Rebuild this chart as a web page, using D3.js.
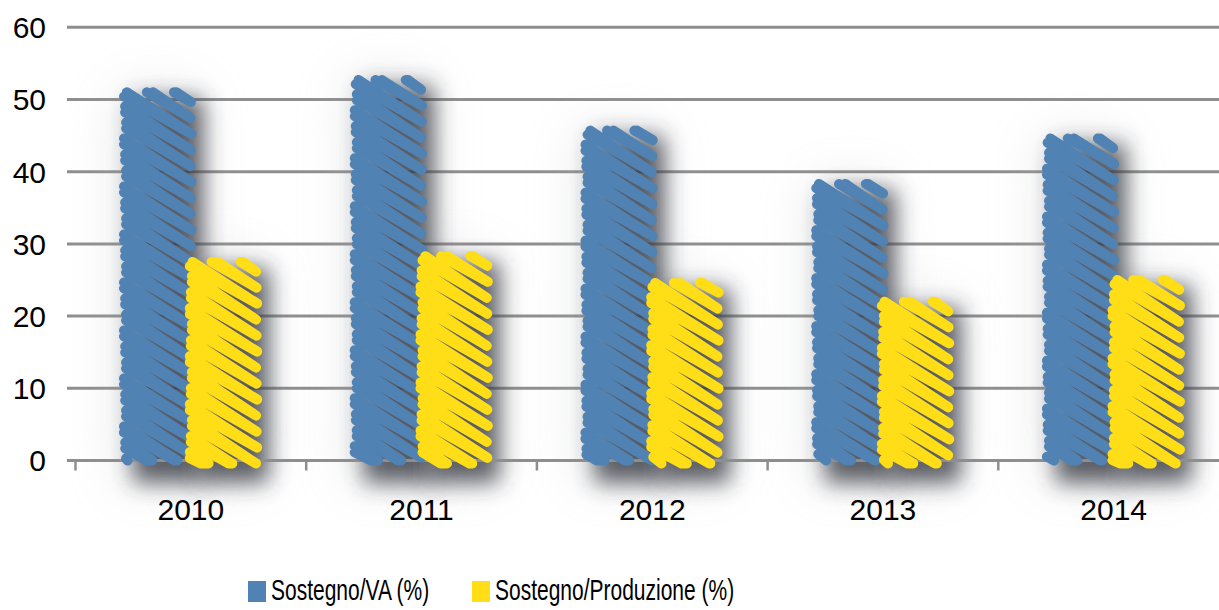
<!DOCTYPE html>
<html>
<head>
<meta charset="utf-8">
<script src="https://cdn.jsdelivr.net/npm/d3@7"></script>
<style>
  html, body { margin: 0; padding: 0; background: #fff; }
  svg { display: block; font-family: "Liberation Sans", Arial, sans-serif; }
</style>
</head>
<body>
<svg id="chart" width="1219" height="610"></svg>
<script>
// ---- data ----
const years = ["2010", "2011", "2012", "2013", "2014"];
const seriesNames = ["Sostegno/VA (%)", "Sostegno/Produzione (%)"];
const vaValues = [51, 52.7, 45.7, 38.3, 44.6];
const prodValues = [27.5, 28.3, 24.6, 22, 25];
const yTicks = [0, 10, 20, 30, 40, 50, 60];
const seriesColors = ["#5082b4", "#ffdd17"];

const svg = d3.select("#chart");

const x0 = d3.scaleBand().domain(years).range([75.5, 1229]);
const bw = x0.bandwidth();
const x1 = d3.scaleBand().domain(seriesNames).range([bw * 0.215, bw * 0.785]);
const y = d3.scaleLinear().domain([0, 60]).range([460.5, 27.3]);

const rows = years.map((yr, i) => ({ year: yr, values: [vaValues[i], prodValues[i]] }));

// ---- filters for the soft shadows ----
const defs = svg.append("defs");
const f1 = defs.append("filter").attr("id", "shadow")
  .attr("x", "-2").attr("y", "-1").attr("width", "5").attr("height", "3");
f1.append("feGaussianBlur").attr("stdDeviation", 11);
const f2 = defs.append("filter").attr("id", "halo")
  .attr("x", "-3").attr("y", "-2").attr("width", "7").attr("height", "5");
f2.append("feGaussianBlur").attr("stdDeviation", 26);

// ---- gridlines ----
svg.append("g").attr("class", "grid")
  .selectAll("line").data(yTicks.filter(d => d > 0)).join("line")
  .attr("x1", 67).attr("x2", 1219)
  .attr("y1", d => y(d)).attr("y2", d => y(d))
  .attr("stroke", "#8e8e8e").attr("stroke-width", 3);

// ---- y labels ----
svg.append("g").selectAll("text").data(yTicks).join("text")
  .attr("x", 46).attr("y", d => y(d)).attr("dy", "0.36em")
  .attr("text-anchor", "end").attr("font-size", 30).attr("fill", "#000")
  .text(d => d);

// ---- shadows ----
const shadowG = svg.append("g");
rows.forEach((r, i) => {
  r.values.forEach((v, k) => {
    const bx = x0(r.year) + x1(seriesNames[k]);
    shadowG.append("rect")
      .attr("x", bx - 5).attr("y", y(v))
      .attr("width", x1.bandwidth() + 10).attr("height", y(0) - y(v) + 20)
      .attr("fill", "#b9bcc0").attr("opacity", 0.35)
      .attr("filter", "url(#halo)");
  });
});
rows.forEach((r, i) => {
  r.values.forEach((v, k) => {
    const bx = x0(r.year) + x1(seriesNames[k]);
    shadowG.append("rect")
      .attr("x", bx + 8).attr("y", y(v) + 6)
      .attr("width", x1.bandwidth() + 4).attr("height", y(0) - y(v) + 16)
      .attr("fill", "#33363d").attr("opacity", 0.78)
      .attr("filter", "url(#shadow)");
  });
});

// ---- x axis ----
const axisG = svg.append("g");
axisG.append("line")
  .attr("x1", 67).attr("x2", 1219).attr("y1", y(0)).attr("y2", y(0))
  .attr("stroke", "#8e8e8e").attr("stroke-width", 3);
axisG.selectAll("line.tick").data(years).join("line").attr("class", "tick")
  .attr("x1", d => x0(d)).attr("x2", d => x0(d))
  .attr("y1", y(0)).attr("y2", y(0) + 10)
  .attr("stroke", "#8e8e8e").attr("stroke-width", 2.5);
axisG.selectAll("text").data(years).join("text")
  .attr("x", d => x0(d) + bw / 2).attr("y", 520)
  .attr("text-anchor", "middle").attr("font-size", 30).attr("fill", "#000")
  .text(d => d);

// ---- scribbled bars ----
// each stroke goes down-right across the bar and comes back a little lower,
// making a narrow loop; loops are stacked every `gap` px
function clipLine(t, slope, xa0, xa1, yTop, yBot) {
  // line y = t + slope * (x - xa0), clipped to the bar rectangle
  const lo = Math.max(xa0, xa0 + (yTop - t) / slope);
  const hi = Math.min(xa1, xa0 + (yBot - t) / slope);
  if (hi - lo < 2) return null;
  return [[lo, t + slope * (lo - xa0)], [hi, t + slope * (hi - xa0)]];
}

function scribble(xa0, xa1, yTop, yBot, seed) {
  const s = 0.66, gap = 16, h = 6, w = xa1 - xa0;
  const p = d3.path();
  let i = 0;
  for (let t = yTop - s * w + gap * 0.6; t < yBot - 2; t += gap, i++) {
    const fwd = clipLine(t, s, xa0, xa1, yTop, yBot);
    const back = clipLine(t + h, s - h / w, xa0, xa1, yTop, yBot);
    const j = Math.sin(seed * 7.3 + i * 2.1) * 1.2;
    if (!fwd) continue;
    p.moveTo(fwd[0][0] + j, fwd[0][1]);
    p.lineTo(fwd[1][0] - j * 0.5, fwd[1][1]);
    if (back) {
      p.lineTo(back[1][0] - j * 0.5, back[1][1]);
      p.lineTo(back[0][0] + j, back[0][1]);
    }
  }
  return p.toString();
}

const barG = svg.append("g");
rows.forEach((r, i) => {
  r.values.forEach((v, k) => {
    const bx = x0(r.year) + x1(seriesNames[k]);
    barG.append("path")
      .attr("d", scribble(bx, bx + x1.bandwidth(), y(v), y(0) + (k ? 3 : 0), i * 2 + k))
      .attr("fill", "none")
      .attr("stroke", seriesColors[k])
      .attr("stroke-width", 10)
      .attr("stroke-linecap", "round")
      .attr("stroke-linejoin", "round");
  });
});

// ---- legend ----
const legendX = [248, 472];
const legend = svg.append("g");
seriesNames.forEach((name, k) => {
  legend.append("rect")
    .attr("x", legendX[k]).attr("y", 581).attr("width", 18).attr("height", 21)
    .attr("fill", seriesColors[k]);
  legend.append("text")
    .attr("transform", `translate(${legendX[k] + 23},600) scale(0.7,1)`)
    .attr("font-size", 30).attr("fill", "#000")
    .text(name);
});
</script>
</body>
</html>
